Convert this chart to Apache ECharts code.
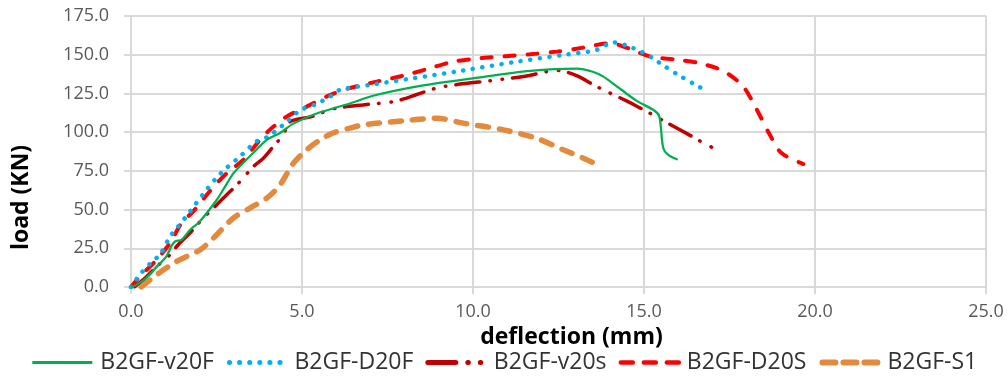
<!DOCTYPE html>
<html>
<head>
<meta charset="utf-8">
<script src="https://cdn.jsdelivr.net/npm/echarts@6/dist/echarts.min.js"></script>
<style>
html,body{margin:0;padding:0;background:#fff;}
#chart{width:1008px;height:376px;}
</style>
</head>
<body>
<div id="chart"></div>
<script>
// ---- data (deflection mm, load KN) ----
const seriesNames = ['B2GF-v20F', 'B2GF-D20F', 'B2GF-v20s', 'B2GF-D20S', 'B2GF-S1'];
const xTicks = [0, 5, 10, 15, 20, 25];
const yTicks = [0, 25, 50, 75, 100, 125, 150, 175];

const v20F = [[0.05,0],[0.4,5],[0.75,13],[1.04,20],[1.2,27],[1.3,29.5],[1.48,30.5],[1.73,37],[2.0,42],[2.5,56],[2.7,63],[2.98,73],[3.1,76],[3.57,86.5],[3.97,95],[4.36,99.5],[4.75,105.5],[5.43,112],[6.4,118.5],[7.08,123.5],[8.5,130],[10.0,134.7],[11.67,139.5],[13.04,141],[13.5,139],[13.8,136],[14.3,128],[14.8,120],[15.3,114],[15.45,110],[15.56,90],[15.7,85.5],[15.96,82.5]];
const D20F = [[0,0],[0.26,8],[0.6,16],[0.85,21],[1.14,32.5],[1.34,38],[1.73,48.8],[2.11,60],[2.5,70.5],[2.8,77],[3.19,84.3],[3.67,94],[4.0,97],[4.45,104.7],[4.94,114],[5.4,118],[5.82,123],[6.11,127.3],[6.99,130.5],[8.25,134.8],[9.7,139.8],[11.28,145.5],[12.64,149.9],[13.6,153],[14.1,158],[14.69,154.2],[15.27,147.7],[15.5,144],[16.05,136.3],[16.6,129.4],[16.88,126]];
const v20s = [[0.1,0],[0.46,6.8],[0.75,13.3],[1.09,19.7],[1.38,27.3],[1.73,35],[2.11,44.5],[2.46,52],[2.75,58.5],[3.14,67],[3.58,77.8],[3.87,83.2],[4.16,90.7],[4.45,98.3],[4.65,106.8],[5.28,110],[5.67,113.3],[6.01,115.5],[6.79,117.6],[7.67,119.7],[8.06,122],[9.04,129],[10.69,133.7],[11.57,136.3],[12.45,139.8],[12.64,139.5],[13.08,136],[13.47,131.2],[13.81,127.3],[14.49,120.2],[14.88,115.7],[15.24,111.4],[15.61,106.8],[16.27,98.9],[16.61,94.6],[16.99,90.1]];
const D20S = [[0,0],[0.26,6.8],[0.75,17.6],[1.14,28.4],[1.48,41.3],[1.82,48.8],[2.31,62],[2.8,73.5],[3.28,82],[3.77,95],[4.06,101.5],[4.55,110],[5.14,116.5],[5.82,124],[6.4,128.5],[7.18,132.6],[8.06,137],[8.74,141.3],[9.42,145.5],[10.2,147.7],[11.67,150.3],[12.45,152],[13.23,154.6],[14.0,157.4],[14.59,153.8],[15.18,148.8],[15.96,146.8],[16.63,144.5],[17.32,139.5],[17.9,129.4],[18.3,114.4],[18.68,98.3],[19.02,86.5],[19.66,79.4]];
const S1 = [[0.3,0],[0.75,7.9],[1.33,16.5],[2.02,24],[2.41,31.6],[2.99,44.5],[3.48,51],[3.97,57.4],[4.36,66],[4.75,80],[5.14,88.6],[5.53,95],[5.92,99.6],[6.4,102.6],[6.79,104.7],[8.06,107.5],[8.94,109],[9.72,105.8],[10.89,101.5],[11.86,96],[12.64,88.6],[13.23,83.2],[13.76,77.8]];

const seriesData = [v20F, D20F, v20s, D20S, S1];
const colors = ['#00B050', '#00B0F0', '#C00000', '#FF0000', '#E38A3D'];
const lineStyles = [
  {width: 2.25, type: 'solid', cap: 'round'},
  {width: 4.5, type: [0.1, 9.6], cap: 'round'},
  {width: 3.5, type: [24, 10, 0.5, 12, 0.5, 10], cap: 'round'},
  {width: 4, type: [10, 13], cap: 'round'},
  {width: 5.5, type: [11, 11], cap: 'round'}
];
const legendLineStyles = [
  {width: 3, type: 'solid', cap: 'butt'},
  {width: 5, type: [0.1, 10], cap: 'round', dashOffset: -3},
  {width: 5, type: [28, 12, 0.5, 12, 0.5, 12], cap: 'round', dashOffset: -2},
  {width: 4.5, type: [12, 11], cap: 'round', dashOffset: -2},
  {width: 6, type: [13, 8], cap: 'round', dashOffset: -3}
];

const chart = echarts.init(document.getElementById('chart'));
const gridColor = '#D9D9D9';
const option = {
  animation: false,
  backgroundColor: '#ffffff',
  textStyle: {fontFamily: 'Open Sans'},
  grid: {left: 131, right: 22, top: 16, bottom: 89, containLabel: false},
  legend: {
    left: 'center',
    top: 346,
    itemWidth: 60,
    itemHeight: 14,
    itemGap: 10,
    itemStyle: {opacity: 0},
    textStyle: {fontSize: 23, color: '#333333', fontFamily: 'Open Sans', padding: [0, 0, 0, 3]},
    data: seriesNames.map((n, i) => ({
      name: n,
      itemStyle: {opacity: 0},
      lineStyle: Object.assign({color: colors[i]}, legendLineStyles[i])
    }))
  },
  xAxis: {
    type: 'value',
    min: xTicks[0], max: xTicks[xTicks.length - 1], interval: 5,
    name: 'deflection (mm)',
    nameLocation: 'middle',
    nameGap: 36,
    nameTextStyle: {fontSize: 23, fontWeight: 'bold', color: '#000', padding: [0, 0, 0, 26]},
    axisLine: {show: true, lineStyle: {color: gridColor, width: 2}},
    axisTick: {show: true, length: 7, lineStyle: {color: gridColor, width: 2}},
    axisLabel: {fontSize: 18, color: '#595959', margin: 16, formatter: v => v.toFixed(1)},
    splitLine: {show: true, lineStyle: {color: gridColor, width: 2}}
  },
  yAxis: {
    type: 'value',
    min: yTicks[0], max: yTicks[yTicks.length - 1], interval: 25,
    name: 'load (KN)',
    nameLocation: 'middle',
    nameRotate: 90,
    nameGap: 98,
    nameTextStyle: {fontSize: 23, fontWeight: 'bold', color: '#000', padding: [0, 92, 0, 0]},
    axisLine: {show: true, lineStyle: {color: gridColor, width: 2}},
    axisTick: {show: true, length: 7, lineStyle: {color: gridColor, width: 2}},
    axisLabel: {fontSize: 18, color: '#595959', margin: 22, formatter: v => v.toFixed(1)},
    splitLine: {show: true, lineStyle: {color: gridColor, width: 2}}
  },
  series: seriesNames.map((n, i) => ({
    name: n,
    type: 'line',
    data: seriesData[i],
    showSymbol: false,
    symbol: 'none',
    smooth: 0.3,
    color: colors[i],
    lineStyle: Object.assign({color: colors[i]}, lineStyles[i]),
    z: 10 - i
  }))
};
chart.setOption(option);
</script>
</body>
</html>
